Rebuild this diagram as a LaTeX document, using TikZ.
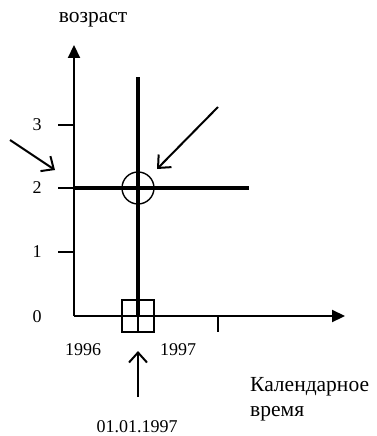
\documentclass[tikz,border=0pt]{standalone}
\usepackage{fontspec}
\setmainfont{Liberation Serif}
\usetikzlibrary{arrows.meta}
\begin{document}
\begin{tikzpicture}[x=1pt,y=-1pt,
  axis/.style={line width=2.2pt,-{Triangle[length=13pt,width=12pt]}},
  thick line/.style={line width=3.5pt},
  tickline/.style={line width=1.5pt},
  pointer/.style={line width=2pt,-{Straight Barb[length=10pt,width=18pt,line width=2pt]}},
  lbl/.style={font=\fontsize{18}{20}\selectfont,inner sep=0pt},
  clbl/.style={font=\fontsize{21.5}{25}\selectfont,inner sep=0pt}]
\useasboundingbox (0,0) rectangle (376,436);
% axes
\coordinate (O) at (74,316);
\coordinate (ytip) at (74,45);
\coordinate (xtip) at (345,316);
\draw[axis] (O) -- (ytip);
\draw[axis] (O) -- (xtip);
% y ticks
\foreach \v/\yy in {3/125,2/188,1/252}{
  \coordinate (t\v) at (58,\yy);
  \coordinate (a\v) at (74,\yy);
  \draw[tickline] (t\v) -- (a\v);
  \node[lbl] (l\v) at (37,\yy) {\v};
}
\node[lbl] (l0) at (37,317) {0};
% x tick
\coordinate (xt1) at (218,316);
\coordinate (xt2) at (218,332);
\draw[tickline] (xt1) -- (xt2);
% thick lines
\coordinate (vtop) at (138,77);
\coordinate (vbot) at (138,316);
\draw[thick line] (vtop) -- (vbot);
\coordinate (hl) at (74,188);
\coordinate (hr) at (249,188);
\draw[thick line] (hl) -- (hr);
% circle
\node[draw,circle,line width=1.4pt,minimum size=32pt,inner sep=0pt] (circ) at (138,188) {};
% square with cross
\node[draw,rectangle,line width=1.4pt,minimum size=32pt,inner sep=0pt] (sq) at (138,316) {};
\draw[line width=1.4pt] (sq.north) -- (sq.south);
\draw[line width=1.4pt] (sq.west) -- (sq.east);
% pointers
\coordinate (p1s) at (10,140);
\coordinate (p1e) at (55,170);
\draw[pointer] (p1s) -- (p1e);
\coordinate (p2s) at (218,107);
\coordinate (p2e) at (157,169);
\draw[pointer] (p2s) -- (p2e);
\coordinate (p3s) at (138,397);
\coordinate (p3e) at (138,351);
\draw[pointer] (p3s) -- (p3e);
% labels
\node[clbl] (age) at (93,20) {возраст};
\node[lbl] (y1996) at (83,350) {1996};
\node[lbl] (y1997) at (178,350) {1997};
\node[lbl] (date) at (137,427) {01.01.1997};
\node[clbl,anchor=west,align=left] (cal) at (250,399) {Календарное\\время};
\end{tikzpicture}
\end{document}
